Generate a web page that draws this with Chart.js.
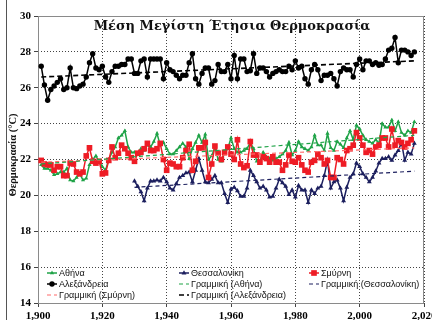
<!DOCTYPE html>
<html>
<head>
<meta charset="utf-8">
<script src="https://cdn.jsdelivr.net/npm/chart.js@4.4.1/dist/chart.umd.min.js"></script>
<style>
  html, body { margin: 0; padding: 0; background: #fff; }
  canvas { display: block; }
</style>
</head>
<body>
<canvas id="tempChart" width="432" height="320"></canvas>
<script>
// Annual mean maximum temperature (°C), one value per year
const firstYear = 1901;
const thessFirstYear = 1930;

const athens = [
    21.7, 21.5, 21.5, 21.4, 21.15, 21.2, 21.3, 21.3, 21.5, 20.85,
    20.8, 21.0, 21.2, 20.85, 20.95, 21.7, 22.0, 22.2, 21.9, 21.6,
    21.4, 22.0, 22.4, 22.7, 23.2, 23.35, 23.6, 22.7, 22.4, 22.4,
    22.3, 22.6, 22.5, 22.8, 22.7, 23.0, 23.45, 22.8, 22.95, 22.6,
    22.3, 22.3, 22.5, 22.7, 22.9, 22.7, 22.05, 22.6, 22.95, 23.35,
    22.95, 23.4, 22.0, 22.2, 22.7, 22.0, 21.9, 22.35, 22.6, 23.2,
    22.6, 22.4, 22.4, 22.5, 22.6, 22.95, 22.6, 21.9, 21.9, 22.4,
    22.15, 22.05, 21.95, 22.05, 22.15, 22.3, 22.5, 22.95, 22.25, 22.5,
    23.0, 22.7, 22.6, 22.5, 22.7, 23.35, 22.8, 22.8, 22.5, 23.45,
    22.65, 22.5, 23.0, 22.85, 22.65, 23.2, 23.6, 23.1, 23.9, 23.7,
    23.35, 23.1, 23.0, 22.9, 23.1, 22.9, 24.0, 23.8, 23.8, 24.2,
    23.6, 24.1, 23.5, 23.35, 23.6, 23.5, 24.1
];

const thessaloniki = [
    20.8, 20.5, 20.2, 19.7, 20.4, 20.8, 20.8, 20.85, 20.8, 21.0,
    20.75, 20.4, 20.3, 20.65, 21.0, 21.1, 21.25, 21.3, 20.75, 21.4,
    22.05, 21.4, 20.75, 20.7, 20.9, 21.1, 20.7, 20.7, 20.1, 19.6,
    20.35, 20.45, 20.25, 19.95, 19.95, 20.4, 21.4, 21.1, 20.75, 20.4,
    20.5, 20.3, 19.9, 19.95, 20.4, 20.9, 20.7, 20.5, 20.05, 20.3,
    19.9, 20.55, 20.3, 20.3, 19.6, 20.3, 20.1, 20.4, 20.5, 21.1,
    21.95, 20.4, 20.75, 20.85, 20.4, 19.7, 20.45, 21.0, 21.2, 21.8,
    21.6, 21.2, 21.0, 20.75, 21.0, 21.35, 21.8, 22.05, 22.05, 22.15,
    21.95, 22.25, 22.5, 22.95, 21.95, 22.4, 22.3, 22.9
];

const smyrna = [
    21.95, 21.75, 21.7, 21.7, 21.4, 21.6, 21.6, 21.1, 21.1, 21.8,
    21.75, 21.3, 21.2, 21.3, 22.2, 22.65, 21.9, 21.8, 21.9, 21.2,
    21.25, 21.95, 22.7, 22.1, 22.35, 22.8, 22.6, 22.35, 22.1, 21.9,
    22.35, 22.4, 22.6, 22.9, 22.5, 22.5, 22.6, 22.9, 22.0, 21.4,
    21.8, 21.75, 21.6, 21.6, 22.1, 22.5, 22.85, 21.4, 21.9, 22.65,
    22.65, 22.95, 21.0, 21.75, 22.75, 22.35, 22.0, 22.4, 22.7, 22.3,
    22.0, 23.1, 21.75, 21.55, 21.65, 23.0, 22.25, 22.25, 21.85, 22.15,
    22.05, 21.85, 22.15, 21.85, 21.85, 21.4, 21.7, 22.25, 21.9, 21.85,
    22.1, 21.7, 21.4, 21.3, 21.85, 21.95, 22.3, 22.1, 21.75, 21.95,
    21.0, 21.0, 22.1, 22.0, 21.75, 22.5, 22.6, 22.8, 23.5, 23.2,
    22.8, 22.4, 22.5, 22.3, 22.7, 22.8, 23.2, 23.2, 22.7, 23.7,
    22.8, 23.05, 22.95, 22.7, 22.9, 23.1, 23.6
];

const alexandria = [
    27.2, 26.15, 25.3, 25.9, 26.1, 26.3, 26.5, 25.9, 26.0, 27.1,
    26.0, 25.95, 26.1, 26.2, 26.6, 27.4, 27.9, 27.1, 27.0, 27.2,
    26.6, 26.3, 26.9, 27.2, 27.2, 27.3, 27.3, 27.6, 27.6, 26.8,
    26.8, 27.5, 27.6, 26.6, 27.6, 27.6, 27.6, 27.6, 26.5, 27.4,
    27.0, 26.9, 26.7, 26.5, 26.7, 26.7, 27.4, 27.9, 26.5, 26.2,
    26.8, 27.1, 27.1, 26.2, 26.4, 27.3, 26.9, 26.9, 27.3, 26.5,
    27.8, 26.5, 27.6, 27.6, 26.9, 26.95, 27.9, 26.8, 27.1, 27.1,
    26.9, 26.6, 26.8, 26.9, 27.0, 26.9, 26.9, 27.2, 27.0, 27.5,
    27.1, 27.2, 26.5, 26.2, 27.0, 27.3, 27.0, 26.4, 26.7, 26.7,
    26.8, 26.5, 26.1, 26.9, 27.1, 27.0, 27.0, 26.6, 27.3, 27.6,
    27.0, 27.5, 27.5, 27.3, 27.4, 27.25, 27.3, 27.6, 28.1, 28.2,
    28.8, 27.4, 28.1, 28.1, 28.0, 27.8, 28.0
];

// Linear trend lines: [start, end]
const trendYears = [1901, 2017];
const thessTrendYears = [1930, 2017];
const athensTrend = [21.75, 23.35];
const thessTrend = [20.45, 21.35];
const smyrnaTrend = [21.85, 22.65];
const alexTrend = [26.6, 27.5];

const GREEN = "#1fa347";
const NAVY = "#1c1f5e";
const RED = "#ee1c25";
const BLACK = "#000000";

function toPoints(values, startYear) {
    return values.map((v, i) => ({ x: startYear + i, y: v }));
}

function trendPoints(years, ends) {
    return years.map((yr, i) => ({ x: yr, y: ends[i] }));
}

function series(label, values, startYear, color, pointStyle, radius, order) {
    return {
        label,
        data: toPoints(values, startYear),
        borderColor: color,
        backgroundColor: color,
        borderWidth: 1.5,
        pointStyle,
        pointRadius: radius,
        pointBorderWidth: 0,
        pointHoverRadius: radius,
        order
    };
}

function trend(label, years, ends, color, dash, width) {
    return {
        label,
        data: trendPoints(years, ends),
        borderColor: color,
        backgroundColor: color,
        borderWidth: width,
        borderDash: dash,
        pointRadius: 0,
        order: 0
    };
}

const datasets = [
    series("Αθήνα", athens, firstYear, GREEN, "triangle", 2.4, 3),
    series("Θεσσαλονίκη", thessaloniki, thessFirstYear, NAVY, "triangle", 2.8, 2),
    series("Σμύρνη", smyrna, firstYear, RED, "rect", 4, 1),
    series("Αλεξάνδρεια", alexandria, firstYear, BLACK, "circle", 2.7, 4),
    trend("Γραμμική (Αθήνα)", trendYears, athensTrend, GREEN, [4, 3], 1.2),
    trend("Γραμμική (Θεσσαλονίκη)", thessTrendYears, thessTrend, NAVY, [4, 3], 1.2),
    trend("Γραμμική (Σμύρνη)", trendYears, smyrnaTrend, "#ff6b6b", [4, 3], 1.2),
    trend("Γραμμική (Αλεξάνδρεια)", trendYears, alexTrend, BLACK, [5, 3], 1.6)
];

// Frame round the plot area, plus the outer left rule
const framePlugin = {
    id: "frame",
    beforeDatasetsDraw(chart) {
        const { ctx, chartArea: a } = chart;
        ctx.save();
        ctx.strokeStyle = "#8a8a8a";
        ctx.lineWidth = 1;
        ctx.strokeRect(a.left + 0.5, a.top + 0.5, a.right - a.left - 1, a.bottom - a.top);
        ctx.strokeStyle = "#555";
        ctx.beginPath();
        ctx.moveTo(6.5, 0);
        ctx.lineTo(6.5, chart.height);
        ctx.stroke();
        ctx.restore();
    }
};

// Title and y axis caption
const textPlugin = {
    id: "texts",
    afterDraw(chart) {
        const { ctx } = chart;
        ctx.save();
        ctx.fillStyle = "#111";
        ctx.font = "bold 13px 'DejaVu Serif'";
        ctx.textAlign = "center";
        ctx.textBaseline = "middle";
        ctx.fillText("Μέση Μεγίστη Έτησια Θερμοκρασία", 232, 27);

        ctx.translate(13.5, 155);
        ctx.rotate(-Math.PI / 2);
        ctx.font = "bold 10.5px 'Liberation Serif'";
        ctx.fillText("Θερμοκρασία (°C)", 0, 0);
        ctx.restore();
    }
};

// Three column legend inside the bottom of the plot area
const legendPlugin = {
    id: "innerLegend",
    afterDraw(chart) {
        const { ctx, chartArea: a } = chart;
        const colX = [a.left + 9, a.left + 141, a.left + 271];
        const rowY = [a.bottom - 30, a.bottom - 19, a.bottom - 8];
        ctx.save();
        ctx.font = "9px 'Liberation Sans'";
        ctx.textBaseline = "middle";
        ctx.textAlign = "left";
        chart.data.datasets.forEach((ds, i) => {
            const x = colX[i % 3];
            const y = rowY[Math.floor(i / 3)];
            const len = 10;
            ctx.strokeStyle = ds.borderColor;
            ctx.lineWidth = ds.borderWidth;
            ctx.setLineDash(ds.borderDash || []);
            ctx.beginPath();
            ctx.moveTo(x, y);
            ctx.lineTo(x + len, y);
            ctx.stroke();
            ctx.setLineDash([]);
            if (ds.pointRadius > 0) {
                ctx.fillStyle = ds.backgroundColor;
                Chart.helpers.drawPoint(ctx, {
                    pointStyle: ds.pointStyle,
                    radius: ds.pointRadius,
                    borderWidth: 0
                }, x + len / 2, y);
            }
            ctx.fillStyle = "#111";
            ctx.fillText(ds.label, x + len + 2, y + 0.5);
        });
        ctx.restore();
    }
};

const tickFont = { family: "'Liberation Serif'", size: 11, weight: "bold" };

new Chart(document.getElementById("tempChart"), {
    type: "line",
    data: { datasets },
    options: {
        responsive: false,
        animation: false,
        layout: { padding: { left: 6, top: 16, right: 8, bottom: 0 } },
        plugins: {
            legend: { display: false },
            tooltip: { enabled: false }
        },
        scales: {
            x: {
                type: "linear",
                min: 1900,
                max: 2020,
                ticks: { stepSize: 20, color: "#000", font: tickFont, padding: 3, maxRotation: 0 },
                grid: { color: "#444", tickColor: "#444", tickLength: 4 },
                border: { display: false, dash: [1, 2] },
                afterFit(scale) {
                    scale.height = 17;
                    scale.paddingLeft = 0;
                    scale.paddingRight = 0;
                }
            },
            y: {
                min: 14,
                max: 30,
                ticks: { stepSize: 2, color: "#000", font: tickFont, padding: 3 },
                grid: { color: "#444", tickColor: "#444", tickLength: 4 },
                border: { display: false, dash: [1, 2] },
                afterFit(scale) {
                    scale.width = 32;
                }
            }
        }
    },
    plugins: [framePlugin, textPlugin, legendPlugin]
});
</script>
</body>
</html>
